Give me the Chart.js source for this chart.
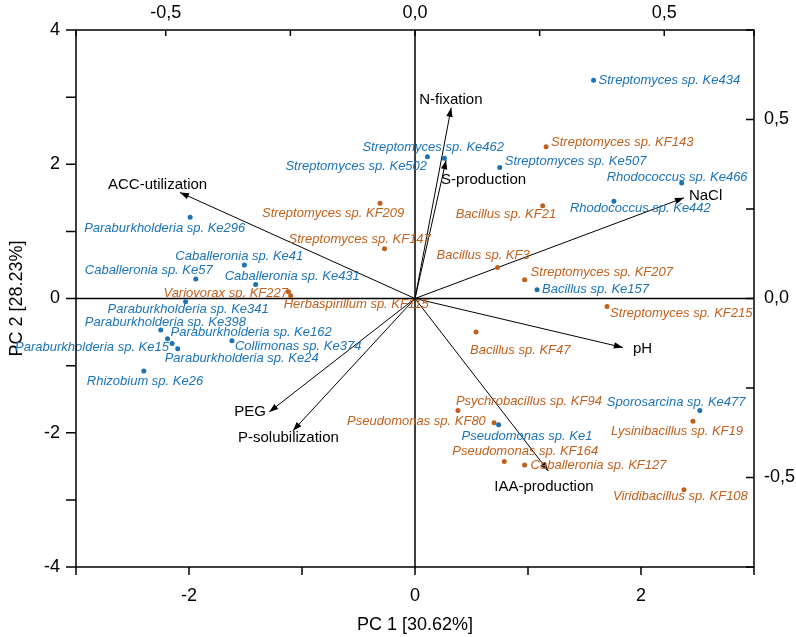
<!DOCTYPE html>
<html><head><meta charset="utf-8">
<script src="https://cdn.jsdelivr.net/npm/chart.js@4.4.1/dist/chart.umd.min.js"></script>
<style>html,body{margin:0;padding:0;background:#fff}#wrap{width:796px;height:637px;position:relative}</style>
</head><body><div id="wrap"><canvas id="c"></canvas></div>
<script>
// ---- data (PC scores) ----
const keNames = ["Streptomyces sp. Ke434","Streptomyces sp. Ke462","Streptomyces sp. Ke502","Streptomyces sp. Ke507","Rhodococcus sp. Ke466","Rhodococcus sp. Ke442","Bacillus sp. Ke157","Paraburkholderia sp. Ke296","Caballeronia sp. Ke41","Caballeronia sp. Ke57","Caballeronia sp. Ke431","Paraburkholderia sp. Ke341","Paraburkholderia sp. Ke398","Paraburkholderia sp. Ke162","Paraburkholderia sp. Ke15","Paraburkholderia sp. Ke24","Collimonas sp. Ke374","Rhizobium sp. Ke26","Sporosarcina sp. Ke477","Pseudomonas sp. Ke1"];
const keX = [1.58,0.26,0.11,0.75,2.36,1.76,1.08,-1.99,-1.51,-1.94,-1.41,-2.03,-2.25,-2.19,-2.15,-2.10,-1.62,-2.40,2.52,0.74];
const keY = [3.25,2.09,2.11,1.95,1.72,1.45,0.13,1.21,0.50,0.29,0.21,-0.05,-0.47,-0.60,-0.67,-0.75,-0.63,-1.08,-1.67,-1.88];

const kfNames = ["Streptomyces sp. KF143","Bacillus sp. KF21","Bacillus sp. KF3","Streptomyces sp. KF207","Streptomyces sp. KF215","Bacillus sp. KF47","Psychrobacillus sp. KF94","Pseudomonas sp. KF80","Pseudomonas sp. KF164","Caballeronia sp. KF127","Lysinibacillus sp. KF19","Viridibacillus sp. KF108","Streptomyces sp. KF209","Streptomyces sp. KF147","Variovorax sp. KF227","Herbaspirillum sp. KF115"];
const kfX = [1.16,1.13,0.73,0.97,1.70,0.54,0.38,0.70,0.79,0.97,2.46,2.38,-0.31,-0.27,-1.12,-1.10];
const kfY = [2.26,1.38,0.46,0.28,-0.12,-0.50,-1.67,-1.85,-2.43,-2.48,-1.83,-2.85,1.42,0.74,0.10,0.04];

// loadings, drawn in PC score units
const loadNames = ["N-fixation","S-production","NaCl","pH","IAA-production","P-solubilization","PEG","ACC-utilization"];
const loadX = [0.32,0.275,2.38,1.84,1.18,-1.08,-1.29,-2.08];
const loadY = [2.84,2.06,1.50,-0.73,-2.57,-1.97,-1.69,1.58];

// tick labels
const xTickLabels = [-2,0,2];
const yTickLabels = [-4,-2,0,2,4];
const topTickLabels = [-0.5,0,0.5];
const rightTickLabels = [-0.5,0,0.5];

// ---- styling ----
const BLUE = '#1a73b9', ORANGE = '#c0601c';
const FONT = '"Liberation Sans", Arial, sans-serif';
const keLabelOff = [[5,0],[-82,-11],[-142,10],[5,-6],[-75,-6],[-44,7],[5,0],[-106,11],[-69,-9],[-111,-9],[-31,-8],[-78,8],[-76,-8],[3,-6],[-157,4],[-13,10],[3,6],[-57,10],[-93,-8],[-37,12]];
const kfLabelOff = [[5,-4],[-87,9],[-61,-12],[6,-7],[3,7],[-6,18],[-2,-9],[-147,-1],[-52,-10],[6,0],[-82,10],[-71,7],[-118,10],[-96,-9],[-125,2],[-7,9]];
const loadLabelOff = [[-32,-8],[-5,20],[5,-2],[10,1],[-54,16],[-55,7],[-35,0],[-72,-8]];

const pts = (xs,ys)=>xs.map((x,i)=>({x, y:ys[i]}));
const datasets = [];
loadNames.forEach((n,i)=>{
  datasets.push({label:n, data:[{x:0,y:0},{x:loadX[i],y:loadY[i]}], showLine:true, borderColor:'#000', borderWidth:1, pointRadius:0, pointHoverRadius:0, order:3});
});
datasets.push({label:'Ke', data:pts(keX,keY), backgroundColor:BLUE, borderColor:BLUE, pointRadius:2.5, borderWidth:0, order:1});
datasets.push({label:'KF', data:pts(kfX,kfY), backgroundColor:ORANGE, borderColor:ORANGE, pointRadius:2.5, borderWidth:0, order:2});

const fmtComma = v => v.toFixed(1).replace('.', ',');

const decor = {
  id:'decor',
  beforeDatasetsDraw(chart){
    const {ctx, chartArea:a, scales:s} = chart;
    const x0 = s.x.getPixelForValue(0), y0 = s.y.getPixelForValue(0);
    ctx.save(); ctx.strokeStyle='#000'; ctx.lineWidth=1.5;
    ctx.beginPath(); ctx.moveTo(a.left,y0); ctx.lineTo(a.right,y0); ctx.moveTo(x0,a.top); ctx.lineTo(x0,a.bottom); ctx.stroke();
    ctx.restore();
  },
  afterDatasetsDraw(chart){
    const {ctx, scales:s} = chart;
    ctx.save();
    loadNames.forEach((n,i)=>{
      const tx = s.x.getPixelForValue(loadX[i]), ty = s.y.getPixelForValue(loadY[i]);
      const ox = s.x.getPixelForValue(0), oy = s.y.getPixelForValue(0);
      const ang = Math.atan2(ty-oy, tx-ox), L=9, W=3.2;
      ctx.fillStyle='#000'; ctx.beginPath();
      ctx.moveTo(tx,ty);
      ctx.lineTo(tx - L*Math.cos(ang) + W*Math.sin(ang), ty - L*Math.sin(ang) - W*Math.cos(ang));
      ctx.lineTo(tx - L*Math.cos(ang) - W*Math.sin(ang), ty - L*Math.sin(ang) + W*Math.cos(ang));
      ctx.closePath(); ctx.fill();
      ctx.font = '15px '+FONT; ctx.textBaseline='middle'; ctx.textAlign='left';
      ctx.fillText(n, tx+loadLabelOff[i][0], ty+loadLabelOff[i][1]);
    });
    ctx.font = 'italic 13px '+FONT; ctx.textBaseline='middle'; ctx.textAlign='left';
    ctx.fillStyle = BLUE;
    keNames.forEach((n,i)=>{
      ctx.fillText(n, s.x.getPixelForValue(keX[i])+keLabelOff[i][0], s.y.getPixelForValue(keY[i])+keLabelOff[i][1]);
    });
    ctx.fillStyle = ORANGE;
    kfNames.forEach((n,i)=>{
      ctx.fillText(n, s.x.getPixelForValue(kfX[i])+kfLabelOff[i][0], s.y.getPixelForValue(kfY[i])+kfLabelOff[i][1]);
    });
    ctx.restore();
  },
  afterDraw(chart){
    const {ctx, chartArea:a, scales:s} = chart;
    ctx.save(); ctx.strokeStyle='#000'; ctx.lineWidth=1.5;
    ctx.strokeRect(a.left, a.top, a.right-a.left, a.bottom-a.top);
    ctx.beginPath();
    s.y.ticks.forEach(t=>{const p=s.y.getPixelForValue(t.value); ctx.moveTo(a.left-10,p); ctx.lineTo(a.left,p);});
    s.x.ticks.forEach(t=>{const p=s.x.getPixelForValue(t.value); ctx.moveTo(p,a.bottom); ctx.lineTo(p,a.bottom+8);});
    s.x2.ticks.forEach(t=>{const p=s.x2.getPixelForValue(t.value); ctx.moveTo(p,a.top); ctx.lineTo(p,a.top+6);});
    s.y2.ticks.forEach(t=>{const p=s.y2.getPixelForValue(t.value); ctx.moveTo(a.right-8,p); ctx.lineTo(a.right,p);});
    ctx.stroke(); ctx.restore();
  }
};

const tickFont = {family: FONT, size: 18};
const titleFont = {family: FONT, size: 18};
new Chart(document.getElementById('c'), {
  type:'scatter',
  data:{datasets},
  options:{
    responsive:true, maintainAspectRatio:false, animation:false,
    layout:{padding:0},
    plugins:{legend:{display:false}, tooltip:{enabled:false}},
    scales:{
      x:{type:'linear', position:'bottom', min:-3, max:3,
        ticks:{stepSize:1, color:'#000', font:tickFont, padding:10, maxRotation:0,
          callback:v=> xTickLabels.includes(v) ? String(v) : ''},
        grid:{display:false, drawTicks:true, tickLength:8}, border:{display:false},
        title:{display:true, text:'PC 1 [30.62%]', color:'#000', font:titleFont, padding:{top:0,bottom:1}},
        afterFit:sc=>{sc.height=70;}},
      x2:{type:'linear', position:'top', min:-0.68, max:0.68,
        ticks:{stepSize:0.25, color:'#000', font:tickFont, padding:6, maxRotation:0, autoSkip:false,
          callback:v=> topTickLabels.some(t=>Math.abs(t-v)<1e-6) ? fmtComma(v) : ''},
        grid:{display:false, drawTicks:false}, border:{display:false},
        afterFit:sc=>{sc.height=30;}},
      y:{type:'linear', position:'left', min:-4, max:4,
        ticks:{stepSize:1, color:'#000', font:tickFont, padding:6,
          callback:v=> yTickLabels.includes(v) ? String(v) : ''},
        grid:{display:false, drawTicks:true, tickLength:10}, border:{display:false},
        title:{display:true, text:'PC 2 [28.23%]', color:'#000', font:titleFont, padding:{top:6,bottom:0}},
        afterFit:sc=>{sc.width=76;}},
      y2:{type:'linear', position:'right', min:-0.75, max:0.75,
        ticks:{stepSize:0.25, color:'#000', font:tickFont, padding:10, autoSkip:false,
          callback:v=> rightTickLabels.some(t=>Math.abs(t-v)<1e-6) ? fmtComma(v) : ''},
        grid:{display:false, drawTicks:false}, border:{display:false},
        afterFit:sc=>{sc.width=42;}}
    }
  },
  plugins:[decor]
});
</script></body></html>
